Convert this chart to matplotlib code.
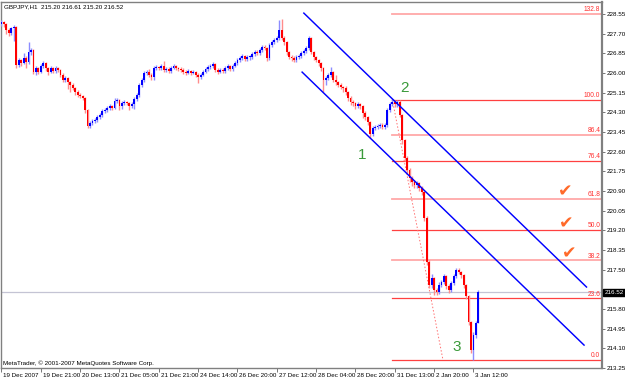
import numpy as np
import matplotlib
matplotlib.use('Agg')
import matplotlib.pyplot as plt
import matplotlib.transforms as mtransforms

# GBPJPY H1 bars (bar 0 = 19 Dec 2007 05:00)
first_open = 228.10
closes = [
    228.20, 228.12, 227.86, 227.73, 227.94, 227.99, 226.35, 226.56, 226.43, 226.65,
    226.48, 226.91, 226.99, 226.04, 226.22, 226.04, 226.30, 226.43, 226.22, 226.04,
    226.22, 226.09, 226.22, 226.13, 225.91, 225.70, 225.78, 225.61, 225.48, 225.35,
    225.18, 225.05, 225.00, 224.92, 224.40, 223.71, 223.84, 223.93, 223.97, 224.10,
    224.18, 224.36, 224.40, 224.49, 224.57, 224.49, 224.79, 224.83, 224.57, 224.70,
    224.75, 224.70, 224.57, 224.66, 224.88, 225.05, 225.48, 225.70, 226.00, 226.04,
    225.91, 225.83, 226.22, 226.26, 226.22, 226.30, 226.13, 226.17, 226.09, 226.22,
    226.30, 226.22, 226.17, 226.13, 226.04, 226.00, 226.09, 226.00, 226.04, 225.91,
    225.83, 225.91, 226.04, 226.17, 226.26, 226.30, 226.39, 226.13, 226.04, 226.13,
    226.09, 226.22, 226.30, 226.17, 226.30, 226.43, 226.56, 226.65, 226.74, 226.61,
    226.69, 226.69, 226.82, 226.91, 226.86, 226.99, 227.12, 227.08, 226.65, 227.21,
    227.34, 227.43, 227.51, 227.86, 227.51, 227.34, 226.91, 226.69, 226.65, 226.56,
    226.69, 226.74, 226.86, 226.95, 227.08, 227.51, 226.91, 226.69, 226.56, 226.43,
    226.22, 225.70, 225.78, 225.91, 226.04, 225.70, 225.61, 225.48, 225.40, 225.35,
    225.18, 224.92, 224.75, 224.70, 224.57, 224.66, 224.57, 224.27, 224.10, 223.88,
    223.36, 223.62, 223.67, 223.71, 223.75, 223.67, 223.75, 224.40, 224.66, 224.75,
    224.66, 224.75, 224.18, 223.10, 222.33, 221.81, 221.46, 221.29, 221.16, 221.25,
    221.03, 220.86, 219.73, 217.83, 216.84, 217.14, 216.62, 216.53, 216.84, 216.97,
    217.23, 216.79, 216.62, 216.92, 217.23, 217.49, 217.40, 217.27, 216.84, 216.36,
    215.24, 214.03, 214.68, 215.20, 216.52,
]
highs = [
    228.29, 228.25, 228.16, 227.95, 228.00, 228.08, 228.05, 226.65, 226.62, 226.86,
    226.72, 227.34, 227.08, 227.02, 226.30, 226.28, 226.40, 226.52, 226.48, 226.26,
    226.30, 226.28, 226.30, 226.28, 226.16, 225.98, 225.86, 225.82, 225.66, 225.55,
    225.40, 225.25, 225.12, 225.06, 224.96, 224.45, 223.92, 224.00, 224.05, 224.18,
    224.26, 224.44, 224.50, 224.58, 224.66, 224.62, 224.92, 224.90, 224.88, 224.78,
    224.82, 224.80, 224.76, 224.74, 224.96, 225.12, 225.56, 225.80, 226.10, 226.12,
    226.18, 226.00, 226.30, 226.34, 226.32, 226.38, 226.52, 226.26, 226.24, 226.30,
    226.38, 226.36, 226.28, 226.24, 226.20, 226.12, 226.16, 226.14, 226.12, 226.10,
    226.00, 226.00, 226.12, 226.24, 226.34, 226.40, 226.48, 226.44, 226.20, 226.22,
    226.20, 226.30, 226.38, 226.36, 226.38, 226.52, 226.64, 226.74, 226.84, 226.80,
    226.78, 226.78, 226.92, 227.00, 226.98, 227.08, 227.22, 227.20, 227.14, 227.30,
    227.42, 227.52, 227.60, 228.29, 228.33, 227.60, 227.40, 226.96, 226.78, 226.72,
    226.78, 226.82, 226.94, 227.04, 227.18, 227.62, 227.56, 226.96, 226.74, 226.62,
    226.48, 226.26, 225.88, 226.00, 226.26, 226.08, 225.90, 225.66, 225.56, 225.46,
    225.42, 225.24, 225.00, 224.82, 224.76, 224.74, 224.72, 224.62, 224.34, 224.16,
    223.92, 223.70, 223.76, 223.80, 223.84, 223.82, 223.84, 224.48, 224.76, 224.86,
    224.84, 224.85, 224.82, 224.22, 223.15, 222.40, 221.88, 221.55, 221.38, 221.34,
    221.30, 221.10, 220.92, 219.80, 217.90, 217.30, 217.20, 216.70, 216.95, 217.06,
    217.32, 217.28, 216.86, 217.00, 217.32, 217.58, 217.56, 217.46, 217.32, 216.90,
    216.42, 215.30, 214.80, 215.30, 216.61,
]
lows = [
    228.02, 228.00, 227.70, 227.62, 227.66, 227.40, 226.22, 226.25, 226.30, 226.38,
    226.20, 226.40, 226.80, 225.95, 225.92, 225.96, 225.98, 226.22, 226.10, 225.92,
    225.98, 226.00, 226.02, 226.04, 225.84, 225.60, 225.62, 225.30, 225.20, 225.25,
    225.05, 224.98, 224.90, 224.82, 224.28, 223.62, 223.64, 223.76, 223.85, 223.90,
    224.02, 224.10, 224.28, 224.32, 224.40, 224.40, 224.44, 224.70, 224.40, 224.45,
    224.62, 224.60, 224.40, 224.48, 224.45, 224.80, 224.98, 225.40, 225.62, 225.90,
    225.84, 225.70, 225.70, 226.14, 226.14, 226.15, 226.06, 226.05, 226.00, 226.02,
    226.16, 226.12, 226.08, 226.04, 225.96, 225.92, 225.94, 225.90, 225.94, 225.84,
    225.57, 225.76, 225.86, 225.98, 226.10, 226.18, 226.22, 226.04, 225.94, 225.98,
    226.00, 226.02, 226.14, 226.08, 226.10, 226.24, 226.36, 226.48, 226.56, 226.50,
    226.52, 226.58, 226.62, 226.74, 226.76, 226.78, 226.92, 226.98, 226.52, 226.58,
    227.14, 227.26, 227.36, 227.44, 227.44, 227.20, 226.80, 226.60, 226.52, 226.48,
    226.48, 226.60, 226.66, 226.78, 226.88, 227.00, 226.82, 226.58, 226.46, 226.32,
    226.10, 225.18, 225.50, 225.70, 225.84, 225.62, 225.50, 225.38, 225.30, 225.20,
    225.06, 224.80, 224.62, 224.58, 224.44, 224.48, 224.44, 224.05, 223.98, 223.74,
    223.19, 223.28, 223.54, 223.58, 223.62, 223.58, 223.60, 223.68, 224.32, 224.58,
    224.55, 224.55, 224.08, 222.95, 222.20, 221.68, 221.30, 221.12, 221.02, 221.05,
    220.90, 220.72, 219.60, 217.70, 216.70, 216.72, 216.40, 216.40, 216.45, 216.76,
    216.88, 216.66, 216.50, 216.54, 216.84, 217.14, 217.30, 217.16, 216.72, 216.22,
    215.10, 213.90, 213.60, 214.55, 215.20,
]
opens = [first_open] + closes[:-1]

time_labels = ['19 Dec 2007', '19 Dec 21:00', '20 Dec 13:00', '21 Dec 05:00', '21 Dec 21:00',
               '24 Dec 14:00', '26 Dec 20:00', '27 Dec 12:00', '28 Dec 04:00', '28 Dec 20:00',
               '31 Dec 13:00', '2 Jan 20:00', '3 Jan 12:00']
label_step = 16  # bars between time labels

price_ticks = [213.25, 214.10, 214.95, 215.80, 216.65, 217.50, 218.35, 219.20, 220.05, 220.90,
               221.75, 222.60, 223.45, 224.30, 225.15, 226.00, 226.85, 227.70, 228.55]

# fibonacci retracement drawn from the swing high to the low
fib_levels = [0.0, 23.6, 38.2, 50.0, 61.8, 76.4, 86.4, 100.0, 132.8]
fib_pale = [False, False, True, False, True, False, True, False, True]
fib_low, fib_high = 213.60, 224.85
fib_bar = 159
fib_trend_x = [159, 179.6]

# descending channel anchors (bar, price)
upper_x, upper_y = [123.0, 238.0], [228.59, 216.75]
lower_x, lower_y = [122.3, 237.0], [226.04, 214.24]

wave_names = ['1', '2', '3']
wave_x = [146.7, 163.8, 185.3]
wave_y = [222.46, 225.35, 214.16]

check_x = [229.3, 229.9, 231.1]
check_y = [220.90, 219.52, 218.20]

o = np.array(opens)
c = np.array(closes)
h = np.array(highs)
l = np.array(lows)
x = np.arange(len(c))
up = c >= o

fig = plt.figure(figsize=(6.25, 3.8), dpi=100)
ax = fig.add_axes([1 / 625, 12 / 380, 601 / 625, 366 / 380])
ax.set_xlim(-0.2, 244.3)
ax.set_ylim(213.25, 229.07)

# current price line
ax.axhline(closes[-1], color='#c4c4d4', lw=0.9, zorder=1)

# fib levels
fib_range = fib_high - fib_low
for lev, pale in zip(fib_levels, fib_pale):
    p = fib_low + fib_range * lev / 100
    ax.plot([fib_bar, 244.3], [p, p], color='#ffa8a8' if pale else '#ff4040',
            lw=1.3 if pale else 0.9, zorder=2)
    ax.text(243.6, p + 0.04, '%.1f' % lev, color='#ff3030', fontsize=4.8,
            ha='right', va='bottom', family='Liberation Sans', zorder=5)
ax.plot(fib_trend_x, [fib_high, fib_low], color='#ff7070', lw=0.7,
        ls=(0, (1.5, 2)), zorder=2)

# candles
wick_col = np.where(up, '#8c8cff', '#ff8c8c')
body_col = np.where(up, '#0000ff', '#ff0000')
ax.vlines(x, l, h, colors=wick_col, lw=1.0, zorder=3)
body_lo = np.minimum(o, c)
body_h = np.maximum(np.abs(c - o), 0.04)
ax.bar(x, body_h, bottom=body_lo, width=0.75, color=body_col, linewidth=0, zorder=4)

# channel
ax.plot(upper_x, upper_y, color='#0000ff', lw=1.05, zorder=5)
ax.plot(lower_x, lower_y, color='#0000ff', lw=1.05, zorder=5)

for name, wx, wy in zip(wave_names, wave_x, wave_y):
    ax.text(wx, wy, name, color='#3a9a3a', fontsize=11, ha='center', va='center',
            family='Liberation Sans', zorder=6)
for cx, cy in zip(check_x, check_y):
    ax.text(cx, cy, '\u2714', color='#ff6a2a', fontsize=12.5, ha='center', va='center', zorder=6)

# axes look
for sp in ax.spines.values():
    sp.set_color('#808080')
    sp.set_linewidth(1)
ax.spines['right'].set_linewidth(1.6)

ax.yaxis.tick_right()
ax.set_yticks(price_ticks)
ax.set_yticklabels(['' if abs(t - 216.65) < 0.01 else '%.2f' % t for t in price_ticks])
ax.tick_params(axis='y', direction='out', length=2, width=0.6, pad=1.5,
               labelsize=4.5, colors='#606060', labelcolor='black')
ax.set_xticks(x[::label_step][:len(time_labels)])
ax.set_xticklabels(time_labels)
ax.tick_params(axis='x', direction='out', length=3, width=0.6, pad=0.5,
               labelsize=4.5, colors='#606060', labelcolor='black')
offset = mtransforms.ScaledTranslation(2 / 100, 0, fig.dpi_scale_trans)
for lab in ax.get_xticklabels() + ax.get_yticklabels():
    lab.set_family('Liberation Sans')
for lab in ax.get_xticklabels():
    lab.set_ha('left')
    lab.set_transform(lab.get_transform() + offset)

# last price marker
ax.text(1.004, closes[-1], '%.2f' % closes[-1], transform=ax.get_yaxis_transform(),
        color='white', fontsize=4.5, family='Liberation Sans', ha='left', va='center',
        bbox=dict(boxstyle='square,pad=0.15', fc='black', ec='black'), clip_on=False, zorder=10)

ax.text(0.005, 0.994, 'GBPJPY,H1  %.2f %.2f %.2f %.2f' % (opens[-1], highs[-1], lows[-1], closes[-1]),
        transform=ax.transAxes, fontsize=4.5, family='Liberation Sans', ha='left', va='top')
ax.text(0.004, 0.006, 'MetaTrader, \u00a9 2001-2007 MetaQuotes Software Corp.',
        transform=ax.transAxes, fontsize=4.5, family='Liberation Sans', ha='left', va='bottom')

fig.savefig('out.png', dpi=100)
